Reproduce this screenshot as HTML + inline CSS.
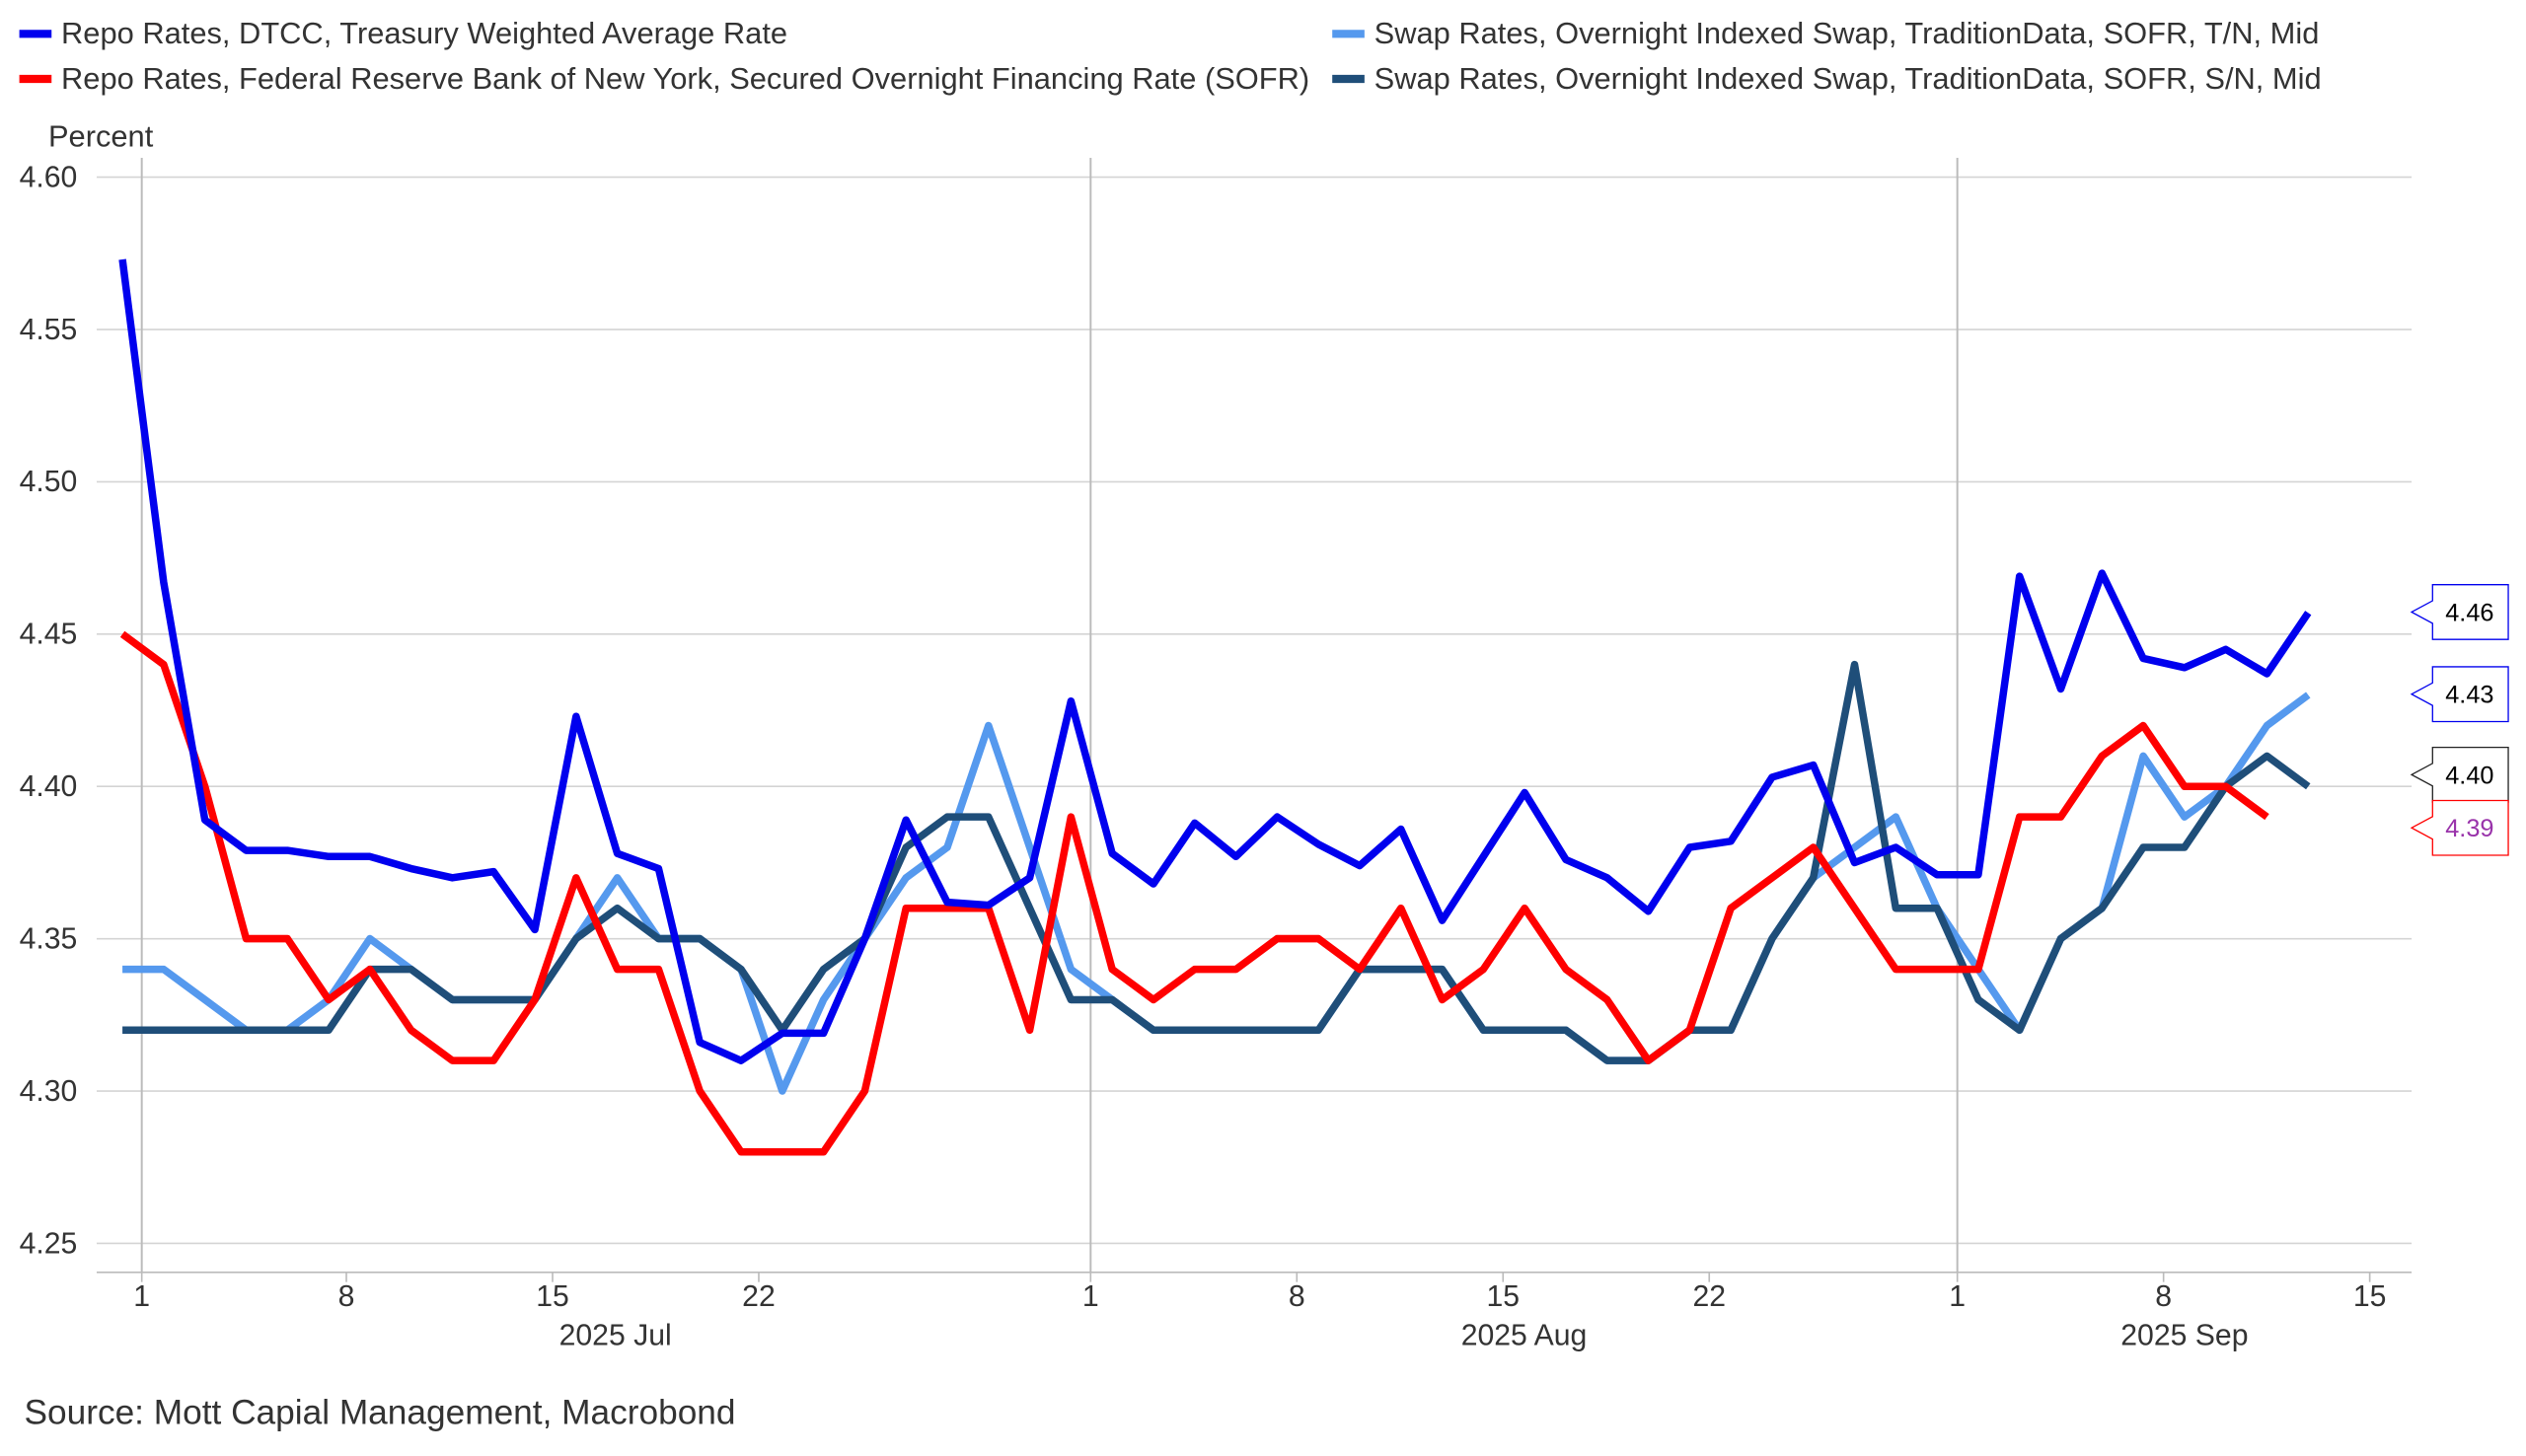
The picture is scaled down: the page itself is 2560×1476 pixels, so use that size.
<!DOCTYPE html>
<html><head><meta charset="utf-8"><style>
html,body{margin:0;padding:0;background:#fff}
svg{display:block}
text{font-family:"Liberation Sans",Arial,sans-serif;fill:#333}
</style></head><body>
<svg id="s" width="2560" height="1476" viewBox="0 0 1568 904" preserveAspectRatio="none" xmlns="http://www.w3.org/2000/svg">
<rect width="1568" height="904" fill="#fff"/>
<g id="grid"></g>
<g id="series" fill="none" stroke-width="4.6" stroke-linejoin="round"></g>
<g font-size="18.9">
<line x1="12" y1="21" x2="32" y2="21" stroke="#0000ee" stroke-width="5"/><text x="38" y="27">Repo Rates, DTCC, Treasury Weighted Average Rate</text>
<line x1="12" y1="49" x2="32" y2="49" stroke="#ff0000" stroke-width="5"/><text x="38" y="55">Repo Rates, Federal Reserve Bank of New York, Secured Overnight Financing Rate (SOFR)</text>
<line x1="827" y1="21" x2="847" y2="21" stroke="#5599ee" stroke-width="5"/><text x="853" y="27">Swap Rates, Overnight Indexed Swap, TraditionData, SOFR, T/N, Mid</text>
<line x1="827" y1="49" x2="847" y2="49" stroke="#1f4e79" stroke-width="5"/><text x="853" y="55">Swap Rates, Overnight Indexed Swap, TraditionData, SOFR, S/N, Mid</text>
<text x="30" y="91">Percent</text>
<text x="15" y="884" font-size="21.6" fill="#000">Source: Mott Capial Management, Macrobond</text>
</g>
<g id="labels" font-size="15.5"></g>
</svg>
<script>
const NS="http://www.w3.org/2000/svg";
function el(p,t,a,txt){const e=document.createElementNS(NS,t);for(const k in a)e.setAttribute(k,a[k]);if(txt!==undefined)e.textContent=txt;p.appendChild(e);return e;}
const Y=v=>110+(4.60-v)/0.05*94.57, X=i=>76+25.6*i;
const g=document.getElementById('grid');
for(let k=0;k<=7;k++){const v=4.60-k*0.05,y=Y(v);
 el(g,'line',{x1:60,x2:1497,y1:y,y2:y,stroke:'#d4d4d4','stroke-width':1});
 el(g,'text',{x:48,y:y+6,'text-anchor':'end','font-size':18.5},v.toFixed(2));}
[88,677,1215].forEach(x=>el(g,'line',{x1:x,x2:x,y1:98,y2:790,stroke:'#bbb','stroke-width':1.2}));
el(g,'line',{x1:60,x2:1497,y1:790,y2:790,stroke:'#bbb','stroke-width':1});
[[88,'1'],[215,'8'],[343,'15'],[471,'22'],[677,'1'],[805,'8'],[933,'15'],[1061,'22'],[1215,'1'],[1343,'8'],[1471,'15']].forEach(([x,t])=>{
 el(g,'line',{x1:x,x2:x,y1:790,y2:796,stroke:'#bbb'});
 el(g,'text',{x:x,y:811,'text-anchor':'middle','font-size':18.5},t);});
[[382,'2025 Jul'],[946,'2025 Aug'],[1356,'2025 Sep']].forEach(([x,t])=>el(g,'text',{x:x,y:835,'text-anchor':'middle','font-size':18.5},t));
const blue=[4.573,4.467,4.389,4.379,4.379,4.377,4.377,4.373,4.370,4.372,4.353,4.423,4.378,4.373,4.316,4.310,4.319,4.319,4.350,4.389,4.362,4.361,4.370,4.428,4.378,4.368,4.388,4.377,4.390,4.381,4.374,4.386,4.356,4.377,4.398,4.376,4.370,4.359,4.380,4.382,4.403,4.407,4.375,4.380,4.371,4.371,4.469,4.432,4.470,4.442,4.439,4.445,4.437,4.457];
const red=[4.45,4.44,4.40,4.35,4.35,4.33,4.34,4.32,4.31,4.31,4.33,4.37,4.34,4.34,4.30,4.28,4.28,4.28,4.30,4.36,4.36,4.36,4.32,4.39,4.34,4.33,4.34,4.34,4.35,4.35,4.34,4.36,4.33,4.34,4.36,4.34,4.33,4.31,4.32,4.36,4.37,4.38,4.36,4.34,4.34,4.34,4.39,4.39,4.41,4.42,4.40,4.40,4.39];
const light=[4.34,4.34,4.33,4.32,4.32,4.33,4.35,4.34,4.33,4.33,4.33,4.35,4.37,4.35,4.35,4.34,4.30,4.33,4.35,4.37,4.38,4.42,4.38,4.34,4.33,4.32,4.32,4.32,4.32,4.32,4.34,4.34,4.34,4.32,4.32,4.32,4.31,4.31,4.32,4.32,4.35,4.37,4.38,4.39,4.36,4.34,4.32,4.35,4.36,4.41,4.39,4.40,4.42,4.43];
const navy=light.slice();
[4.32,4.32,4.32,4.32,4.32,4.32,4.34,4.34,4.33,4.33,4.33,4.35,4.36,4.35,4.35,4.34,4.32,4.34,4.35,4.38,4.39,4.39,4.36,4.33,4.33,4.32].forEach((v,i)=>navy[i]=v);
[[40,4.35],[41,4.37],[42,4.44],[43,4.36],[44,4.36],[45,4.33],[46,4.32],[47,4.35],[48,4.36],[49,4.38],[50,4.38],[51,4.40],[52,4.41],[53,4.40]].forEach(([i,v])=>navy[i]=v);
const sg=document.getElementById('series');
[[light,'#5599ee'],[navy,'#1f4e79'],[red,'#ff0000'],[blue,'#0000ee']].forEach(([d,c])=>
 el(sg,'polyline',{points:d.map((v,i)=>X(i).toFixed(1)+','+Y(v).toFixed(1)).join(' '),stroke:c}));
const lg=document.getElementById('labels');
[[380,'#0000ee','#000','4.46'],[431,'#0000ee','#000','4.43'],[481,'#222','#000','4.40'],[514,'#ff0000','#9933aa','4.39']].forEach(([y,c,tc,t])=>{
 el(lg,'path',{d:`M1497 ${y} L1510 ${y-7} L1510 ${y-17} L1557 ${y-17} L1557 ${y+17} L1510 ${y+17} L1510 ${y+7} Z`,fill:'#fff',stroke:c,'stroke-width':0.8});
 el(lg,'text',{x:1533,y:y+5.5,'text-anchor':'middle',style:'fill:'+tc},t);});
</script>
</body></html>
